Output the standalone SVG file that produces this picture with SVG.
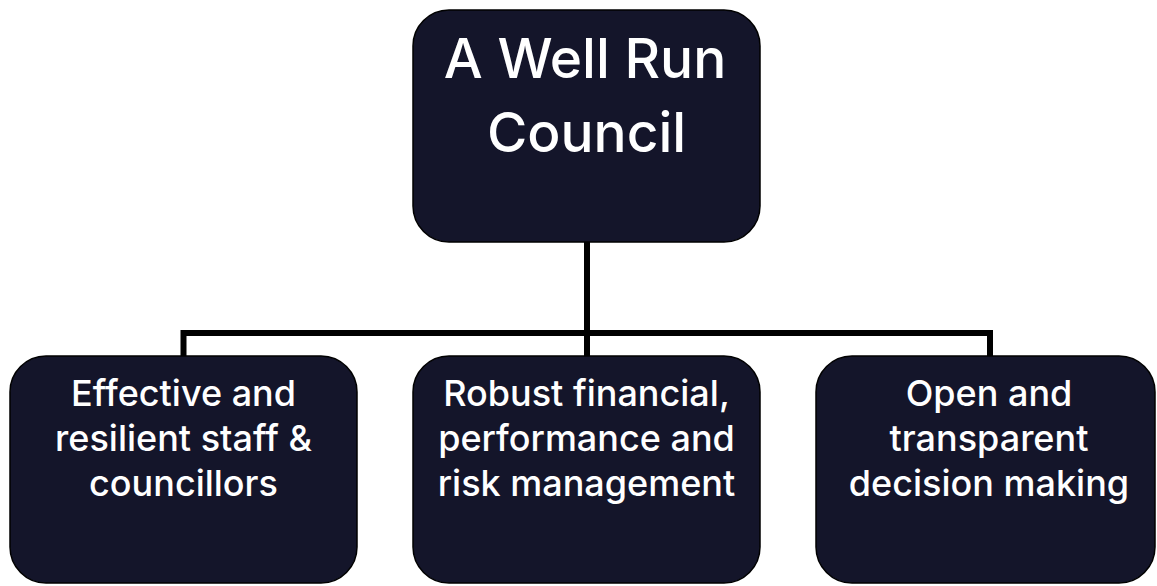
<svg xmlns="http://www.w3.org/2000/svg" width="1157" height="586" viewBox="0 0 1157 586">
<style>
.box{fill:#14152a;stroke:#000;stroke-width:1.5}
.t{fill:#fff;font-family:Inter,"Liberation Sans",sans-serif;font-weight:500;text-anchor:middle}
.big{font-size:55px}
.sm{font-size:36px}
.conn{fill:none;stroke:#000;stroke-width:6}
</style>
<rect width="1157" height="586" fill="#fff"/>
<g id="connectors">
<path class="conn" d="M587 242V333M183.5 356V333H990V356M587 333V356"/>
</g>
<g id="top">
<rect class="box" x="413" y="10" width="347" height="232" rx="36"/>
<text class="t big" x="585" y="78">A Well Run</text>
<text class="t big" x="586.5" y="152">Council</text>
</g>
<g id="left">
<rect class="box" x="10" y="356" width="347" height="227" rx="36"/>
<text class="t sm" x="183.5" y="406">Effective and</text>
<text class="t sm" x="183.5" y="451">resilient staff &amp;</text>
<text class="t sm" x="183.5" y="496">councillors</text>
</g>
<g id="middle">
<rect class="box" x="413" y="356" width="347" height="227" rx="36"/>
<text class="t sm" x="586.5" y="406">Robust financial,</text>
<text class="t sm" x="586.5" y="451">performance and</text>
<text class="t sm" x="586.5" y="496">risk management</text>
</g>
<g id="right">
<rect class="box" x="816" y="356" width="339" height="227" rx="36"/>
<text class="t sm" x="989" y="406">Open and</text>
<text class="t sm" x="989" y="451">transparent</text>
<text class="t sm" x="989" y="496">decision making</text>
</g>
</svg>
